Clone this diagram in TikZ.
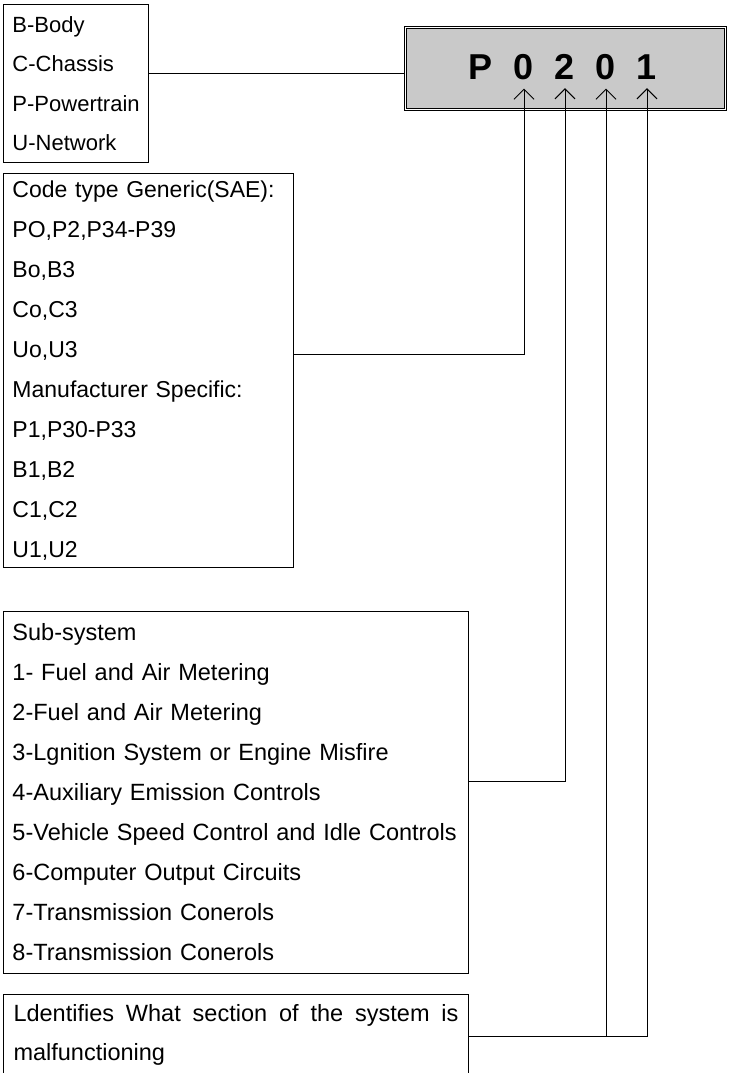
\documentclass[tikz,border=0pt]{standalone}
\usepackage{fontspec}
\setmainfont{Liberation Sans}
\usepackage{tikz}
\usetikzlibrary{positioning, arrows.meta, calc}

\definecolor{codegray}{HTML}{C9C9C9}

\begin{document}
\begin{tikzpicture}[
    x=1pt, y=1pt,
    infobox/.style={draw, line width=1pt, anchor=north west, align=left, inner xsep=9pt, inner ysep=0pt},
    digit/.style={anchor=base, inner xsep=0pt, inner ysep=9pt, font=\fontsize{36}{40}\selectfont\bfseries},
    wire/.style={line width=1pt},
    arrow/.style={line width=1pt, -{Straight Barb[length=10pt, width=20pt, line width=1pt]}}
]
    \useasboundingbox (0,0) rectangle (728,-1073);

    % category letter box
    \node[infobox, minimum width=145pt, minimum height=158pt, font=\fontsize{22}{39.5}\selectfont]
        (system) at (3,-4) {B-Body\\C-Chassis\\P-Powertrain\\U-Network};

    % code box with digits
    \node[draw, double=white, double distance=1.6pt, line width=0.8pt, fill=codegray,
        minimum width=320pt, minimum height=82pt] (codebox) at (565.5,-68.5) {};
    \node[digit] (digP) at (480,-79) {P};
    \node[digit] (dig1) at (524,-79) {0};
    \node[digit] (dig2) at (565,-79) {2};
    \node[digit] (dig3) at (606,-79) {0};
    \node[digit] (dig4) at (647,-79) {1};

    % code type box
    \node[infobox, text width=272pt, minimum height=394pt, font=\fontsize{23}{40}\selectfont]
        (codetype) at (3,-173) {Code type Generic(SAE):\\PO,P2,P34-P39\\Bo,B3\\Co,C3\\Uo,U3\\Manufacturer Specific:\\P1,P30-P33\\B1,B2\\C1,C2\\U1,U2};

    % sub-system box
    \node[infobox, text width=447pt, minimum height=362pt, font=\fontsize{23.5}{40}\selectfont]
        (subsys) at (3,-611) {Sub-system\\1- Fuel and Air Metering\\2-Fuel and Air Metering\\3-Lgnition System or Engine Misfire\\4-Auxiliary Emission Controls\\5-Vehicle Speed Control and Idle Controls\\6-Computer Output Circuits\\7-Transmission Conerols\\8-Transmission Conerols};

    % section box
    \node[infobox, align=justify, text width=445pt, minimum height=81pt, inner xsep=10pt, font=\fontsize{23.5}{39}\selectfont]
        (section) at (3,-994) {Ldentifies What section of the system is malfunctioning};

    % connectors
    \draw[wire] ([yshift=10pt]system.east) -- ([yshift=10pt]system.east -| codebox.west);
    \draw[arrow] ([yshift=16pt]codetype.east) -| (dig1.south);
    \draw[arrow] ([yshift=11pt]subsys.east) -| (dig2.south);
    \coordinate (sectionout) at ([yshift=-1.5pt]section.east);
    \draw[arrow] (sectionout) -| (dig4.south);
    \draw[arrow] (sectionout -| dig3.south) -- (dig3.south);
\end{tikzpicture}
\end{document}
